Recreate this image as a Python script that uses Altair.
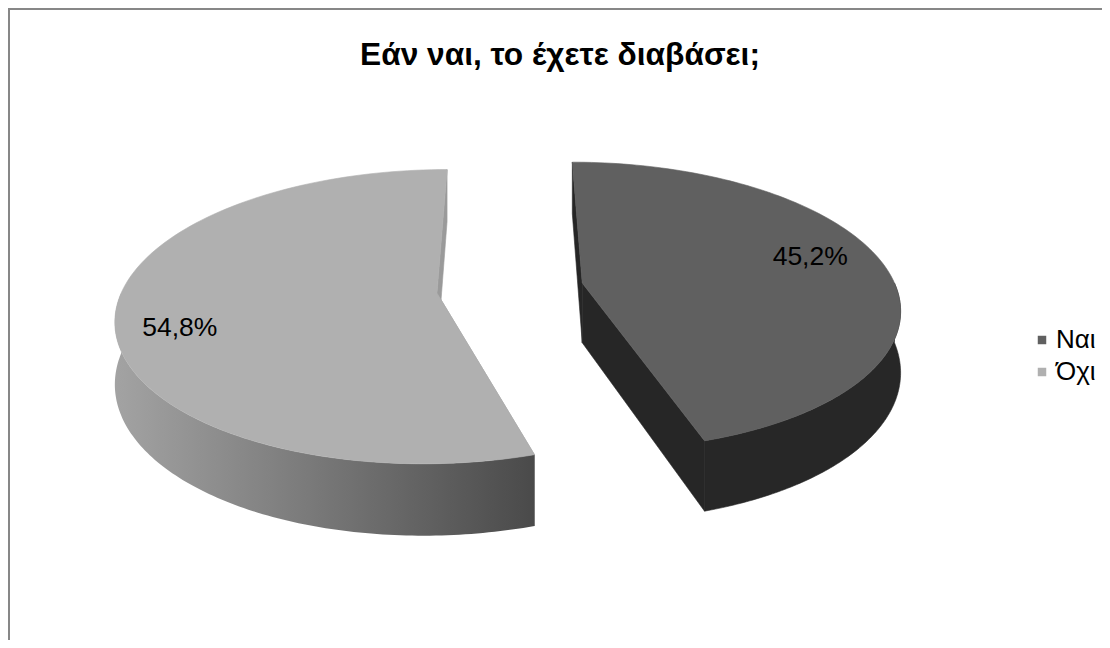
import numpy as np
import pandas as pd
import altair as alt

# ---- data ----
labels = ["Ναι", "Όχι"]
values = [45.2, 54.8]
pct_text = ["45,2%", "54,8%"]
top_colors = ["#606060", "#b0b0b0"]
wall_colors = ["#272727", None]           # None -> gradient
edge_colors = ["#262626", "#9a9a9a"]
title_text = "Εάν ναι, το έχετε διαβάσει;"

# ---- 3D pie geometry (derived from the values) ----
W, H = 1094, 632
CX, CY = 502, 280
R, RY, KP, EXPL, TH = 314, 141.7, 0.16, 0.234, 60
N = 120


def proj(u, v, h=0.0):
    f = 1.0 / (1.0 + KP * v)
    return CX + R * u * f, CY - RY * v * f + TH * h * f


total = float(sum(values))
ends = np.cumsum(values) / total * 2 * np.pi
starts = np.concatenate([[0.0], ends[:-1]])

rows = []


def add_poly(name, pts):
    for i, (x, y) in enumerate(pts):
        rows.append({"poly": name, "i": i, "x": x, "y": y})


label_rows = []
for k, lab in enumerate(labels):
    a1, a2 = starts[k], ends[k]
    b = (a1 + a2) / 2
    vu, vv = EXPL * np.sin(b), EXPL * np.cos(b)
    ang = np.linspace(a1, a2, N)
    pts = [proj(vu, vv)] + [proj(vu + np.sin(a), vv + np.cos(a)) for a in ang] + [proj(vu, vv)]
    add_poly(f"top{k}", pts)
    for j, e in enumerate((a1, a2)):
        pts = [proj(vu, vv), proj(vu + np.sin(e), vv + np.cos(e)),
               proj(vu + np.sin(e), vv + np.cos(e), 1), proj(vu, vv, 1), proj(vu, vv)]
        add_poly(f"edge{k}_{j}", pts)
    w1, w2 = max(a1, np.pi / 2), min(a2, 1.5 * np.pi)
    if w2 > w1:
        ang = np.linspace(w1, w2, N)
        pts = [proj(vu + np.sin(a), vv + np.cos(a)) for a in ang] + \
              [proj(vu + np.sin(a), vv + np.cos(a), 1) for a in ang[::-1]]
        pts.append(pts[0])
        add_poly(f"wall{k}", pts)
    lr = 0.8
    lx, ly = proj(vu + lr * np.sin(b), vv + lr * np.cos(b))
    label_rows.append({"label": lab, "text": pct_text[k], "x": lx, "y": ly})

df = pd.DataFrame(rows)
df_lab = pd.DataFrame(label_rows)

xs = alt.Scale(domain=[0, W], nice=False, zero=False)
ys = alt.Scale(domain=[0, H], reverse=True, nice=False, zero=False)
X = alt.X("x:Q", scale=xs, axis=None)
Y = alt.Y("y:Q", scale=ys, axis=None)

base = alt.Chart(df)


def poly_layer(name, fill, stroke):
    return base.transform_filter(alt.datum.poly == name).mark_line(
        fill=fill, stroke=stroke, strokeWidth=0.6, interpolate="linear"
    ).encode(x=X, y=Y, order="i:Q")


grad = alt.LinearGradient(
    gradient="linear",
    stops=[alt.GradientStop(color="#a3a3a3", offset=0),
           alt.GradientStop(color="#4a4a4a", offset=1)],
    x1=0, x2=1, y1=0, y2=0,
)

layers = []
for k in range(len(labels)):
    for j in range(2):
        layers.append(poly_layer(f"edge{k}_{j}", edge_colors[k], edge_colors[k]))
for k in range(len(labels)):
    if wall_colors[k] is None:
        layers.append(base.transform_filter(alt.datum.poly == f"wall{k}").mark_line(
            fill=grad, strokeWidth=0).encode(x=X, y=Y, order="i:Q"))
    else:
        layers.append(poly_layer(f"wall{k}", wall_colors[k], wall_colors[k]))
for k in range(len(labels)):
    layers.append(poly_layer(f"top{k}", top_colors[k], top_colors[k]))

# per-label nudges (Excel label placement)
nudges = {"Ναι": (-13, -10), "Όχι": (-1, 17)}
for lab in labels:
    dx, dy = nudges[lab]
    layers.append(
        alt.Chart(df_lab).transform_filter(alt.datum.label == lab).mark_text(
            font="Liberation Sans", fontSize=26.5, color="#000000", dx=dx, dy=dy
        ).encode(x=X, y=Y, text="text:N")
    )

title_layer = alt.Chart(pd.DataFrame({"t": [title_text]})).mark_text(
    font="Liberation Sans", fontSize=31.7, fontWeight="bold", color="#000000",
    align="center", baseline="alphabetic",
).encode(x=alt.value(552), y=alt.value(57), text="t:N")

border_layer = alt.Chart(pd.DataFrame({"t": [title_text]})).mark_rect(
    fill=None, stroke="#878787", strokeWidth=2,
).encode(x=alt.value(1), x2=alt.value(W + 20), y=alt.value(1), y2=alt.value(H + 20))

legend_layer = alt.Chart(pd.DataFrame({"label": labels})).mark_square(opacity=0).encode(
    color=alt.Color(
        "label:N",
        scale=alt.Scale(domain=labels, range=top_colors),
        legend=alt.Legend(
            title=None, orient="none", legendX=1021, legendY=319,
            symbolType="square", symbolSize=72, symbolOpacity=1,
            symbolStrokeWidth=0, labelFont="Liberation Sans",
            labelFontSize=26, labelColor="#000000", rowPadding=6,
            labelOffset=1,
        ),
    )
)

chart = alt.layer(border_layer, *layers, title_layer, legend_layer).properties(
    width=W, height=H,
    padding=0,
    autosize=alt.AutoSizeParams(type="none"),
).configure_view(stroke=None).configure(background="white")

chart.save("out.html", embed_options={"renderer": "svg", "actions": False})
